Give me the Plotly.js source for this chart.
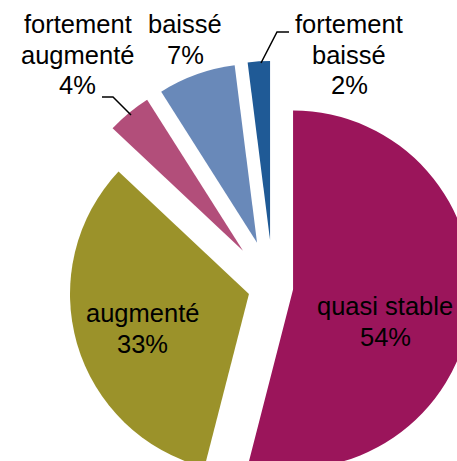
<!DOCTYPE html>
<html>
<head>
<meta charset="utf-8">
<script src="https://cdn.plot.ly/plotly-3.0.1.min.js"></script>
<style>
  html, body { margin: 0; padding: 0; overflow: hidden; width: 457px; height: 461px; background: #fff; }
  #chart { width: 600px; height: 600px; }
</style>
</head>
<body>
<div id="chart"></div>
<script>
// ---- data ----
var labels = ['quasi stable', 'augmenté', 'fortement augmenté', 'baissé', 'fortement baissé'];
var values = [54, 33, 4, 7, 2];
var colors = ['#9B155B', '#9B922A', '#B24E7A', '#6989B9', '#1F5A96'];
var pulls  = [0.113, 0.14, 0.263, 0.263, 0.263];

// ---- layout geometry (pixels in the page) ----
var W = 600, H = 600, L = 47, T = 61, S = 452;
function px(x) { return (x - L) / S; }
function py(y) { return 1 - (y - T) / S; }

var FS = 25.5;
var LINE = 30.5;
// label anchor: centre x, first baseline y
var labelPos = [
  {x: 385, y: 315},
  {x: 142.5, y: 322},
  {x: 77.5, y: 33},
  {x: 185, y: 33},
  {x: 349, y: 33}
];

var total = values.reduce(function (a, b) { return a + b; }, 0);
var annotations = [];
labels.forEach(function (lab, i) {
  var lines = lab.indexOf('fortement ') === 0 ? ['fortement', lab.slice(10)] : [lab];
  lines.push(Math.round(values[i] / total * 100) + '%');
  lines.forEach(function (t, k) {
    var base = labelPos[i].y + k * LINE;
    annotations.push({
      xref: 'paper', yref: 'paper',
      x: px(labelPos[i].x), y: py(base - 0.347 * FS),
      xanchor: 'center', yanchor: 'middle',
      text: t, showarrow: false,
      font: {family: 'Liberation Sans, Arial, sans-serif', size: FS, color: '#000'}
    });
  });
});

function pathOf(pts) {
  return pts.map(function (p, k) { return (k ? 'L' : 'M') + px(p[0]) + ',' + py(p[1]); }).join(' ');
}
var shapes = [
  {type: 'path', xref: 'paper', yref: 'paper', path: pathOf([[102, 97], [113, 97], [131, 115]]),
   line: {color: '#000', width: 1.5}},
  {type: 'path', xref: 'paper', yref: 'paper', path: pathOf([[289, 32], [277, 32], [261, 63]]),
   line: {color: '#000', width: 1.5}}
];

var trace = {
  type: 'pie',
  labels: labels,
  values: values,
  sort: false,
  direction: 'clockwise',
  rotation: 0,
  pull: pulls,
  marker: {colors: colors, line: {width: 0}},
  textinfo: 'none',
  hoverinfo: 'label+percent',
  showlegend: false
};

var layout = {
  width: W, height: H,
  margin: {l: L, t: T, r: W - L - S, b: H - T - S, pad: 0},
  paper_bgcolor: '#fff',
  plot_bgcolor: '#fff',
  showlegend: false,
  annotations: annotations,
  shapes: shapes
};

Plotly.newPlot('chart', [trace], layout, {displayModeBar: false, staticPlot: true});
</script>
</body>
</html>
